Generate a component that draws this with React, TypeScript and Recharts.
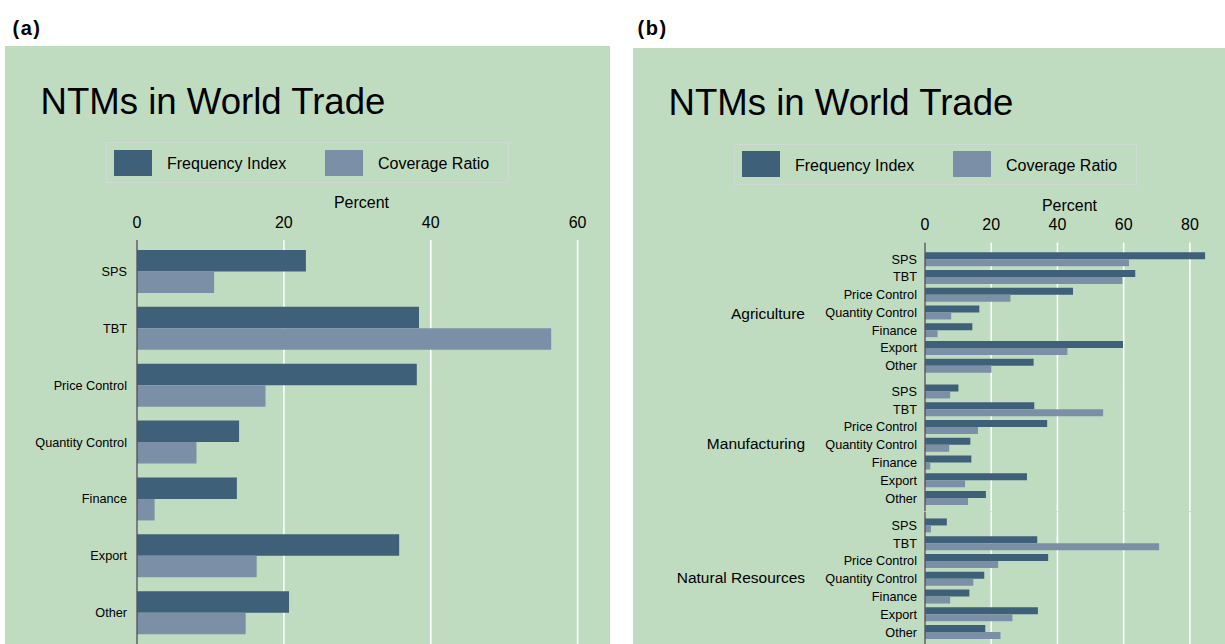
import React from 'react';
import { BarChart, Bar, XAxis, YAxis, CartesianGrid } from 'recharts';

// NTM types, same order in both panels
const measures = ['SPS', 'TBT', 'Price Control', 'Quantity Control', 'Finance', 'Export', 'Other'];

// (a) all products, percent
const worldFrequency = [23.0, 38.4, 38.1, 13.9, 13.6, 35.7, 20.7];
const worldCoverage = [10.5, 56.4, 17.5, 8.1, 2.4, 16.3, 14.8];

// (b) by sector, percent
const sectors = ['Agriculture', 'Manufacturing', 'Natural Resources'];
const agriFrequency = [84.6, 63.5, 44.7, 16.4, 14.3, 59.8, 32.8];
const agriCoverage = [61.6, 59.6, 25.8, 7.9, 3.8, 43.0, 20.1];
const manuFrequency = [10.1, 33.0, 36.9, 13.7, 14.0, 30.8, 18.4];
const manuCoverage = [7.6, 53.8, 16.0, 7.3, 1.6, 12.1, 13.0];
const natFrequency = [6.6, 33.9, 37.2, 17.9, 13.4, 34.1, 18.2];
const natCoverage = [1.8, 70.7, 22.1, 14.6, 7.6, 26.4, 22.8];

const ticksA = [0, 20, 40, 60];
const ticksB = [0, 20, 40, 60, 80];

const DARK = '#3e6179';
const LIGHT = '#7b90a7';
const BG = '#bfdcc0';
const FONT = '"Liberation Sans", Arial, Helvetica, sans-serif';

const toRows = (freq: number[], cov: number[]) =>
  measures.map((m, i) => ({ measure: m, frequency: freq[i], coverage: cov[i] }));

const worldRows = toRows(worldFrequency, worldCoverage);
const sectorRows = [
  toRows(agriFrequency, agriCoverage),
  toRows(manuFrequency, manuCoverage),
  toRows(natFrequency, natCoverage),
];

function PanelHeader() {
  const swatch = (left: number, color: string) => (
    <div style={{ position: 'absolute', left, top: 103.5, width: 38, height: 26, background: color }} />
  );
  const text = (left: number, value: string) => (
    <div style={{ position: 'absolute', left, top: 110, fontSize: 16, lineHeight: '16px', whiteSpace: 'nowrap' }}>
      {value}
    </div>
  );
  return (
    <>
      <div style={{ position: 'absolute', left: 35.5, top: 37.5, fontSize: 36.6, lineHeight: '36.6px', whiteSpace: 'nowrap' }}>
        NTMs in World Trade
      </div>
      <div
        style={{
          position: 'absolute', left: 100.5, top: 96, width: 403, height: 41,
          border: '1px solid #cddbd4', boxSizing: 'border-box',
        }}
      />
      {swatch(109, DARK)}
      {text(162, 'Frequency Index')}
      {swatch(319.5, LIGHT)}
      {text(373, 'Coverage Ratio')}
    </>
  );
}

const tickStyle = { fontSize: 16, fill: '#000' };
const catStyle = { fontSize: 12.7, fill: '#000' };

function SectorChart({ idx, top, height, showAxis, padTop, padBottom, labelDy }: any) {
  return (
    <div style={{ position: 'absolute', left: 0, top }}>
      <BarChart
        width={592}
        height={height}
        data={sectorRows[idx]}
        layout="vertical"
        barGap={0}
        margin={{ top: showAxis ? 150.5 : 0, right: 2, bottom: 0, left: 0 }}
      >
        <CartesianGrid horizontal={false} syncWithTicks stroke="#ffffff" strokeWidth={1.6} />
        <XAxis
          type="number"
          orientation="top"
          domain={[0, 90]}
          ticks={ticksB}
          hide={!showAxis}
          height={44}
          axisLine={false}
          tickLine={false}
          tickSize={6}
          tickMargin={6}
          tick={tickStyle}
          label={{ value: 'Percent', position: 'insideTop', offset: 1, dx: -4.5, fontSize: 16, fill: '#000' }}
        />
        <YAxis
          type="category"
          dataKey="measure"
          width={292}
          interval={0}
          tickLine={false}
          tickSize={6}
          tickMargin={2}
          tick={catStyle}
          axisLine={{ stroke: '#555555', strokeWidth: 1.5 }}
          padding={{ top: padTop, bottom: padBottom }}
          label={{ value: sectors[idx], position: 'insideRight', offset: 120, dy: labelDy, fontSize: 15.5, fill: '#000' }}
        />
        <Bar dataKey="frequency" name="Frequency Index" fill={DARK} barSize={7} isAnimationActive={false} />
        <Bar dataKey="coverage" name="Coverage Ratio" fill={LIGHT} barSize={7} isAnimationActive={false} />
      </BarChart>
    </div>
  );
}

const panelTag = { position: 'absolute' as const, top: 17.7, fontSize: 20, lineHeight: '20px', fontWeight: 'bold' as const, letterSpacing: 1.5 };

export default function App() {
  return (
    <div
      style={{
        position: 'fixed', left: 0, top: 0, width: 1225, height: 644, overflow: 'hidden',
        background: '#ffffff', fontFamily: FONT, color: '#000',
      }}
    >
      <div style={{ ...panelTag, left: 12.5 }}>(a)</div>
      <div style={{ ...panelTag, left: 637.5 }}>(b)</div>

      {/* panel (a) */}
      <div style={{ position: 'absolute', left: 5, top: 46, width: 605, height: 598, background: BG }}>
        <PanelHeader />
        <div style={{ position: 'absolute', left: 0, top: 0 }}>
          <BarChart
            width={605}
            height={598}
            data={worldRows}
            layout="vertical"
            barGap={0}
            margin={{ top: 150, right: 3, bottom: 0, left: 0 }}
          >
            <CartesianGrid horizontal={false} syncWithTicks stroke="#ffffff" strokeWidth={1.6} />
            <XAxis
              type="number"
              orientation="top"
              domain={[0, 64]}
              ticks={ticksA}
              height={44}
              axisLine={false}
              tickLine={false}
              tickSize={6}
              tickMargin={6}
              tick={tickStyle}
              label={{ value: 'Percent', position: 'insideTop', offset: 1, dx: -10.5, fontSize: 16, fill: '#000' }}
            />
            <YAxis
              type="category"
              dataKey="measure"
              width={132}
              interval={0}
              tickLine={false}
              tickSize={6}
              tickMargin={4}
              tick={catStyle}
              axisLine={{ stroke: '#555555', strokeWidth: 1.5 }}
              padding={{ top: 3, bottom: 3 }}
            />
            <Bar dataKey="frequency" name="Frequency Index" fill={DARK} barSize={21.5} isAnimationActive={false} />
            <Bar dataKey="coverage" name="Coverage Ratio" fill={LIGHT} barSize={21.5} isAnimationActive={false} />
          </BarChart>
        </div>
      </div>

      {/* panel (b) */}
      <div style={{ position: 'absolute', left: 633, top: 47.5, width: 592, height: 596.5, background: BG, overflow: 'hidden' }}>
        <PanelHeader />
        <SectorChart idx={0} top={0} height={330.8} showAxis padTop={7.8} padBottom={4.45} labelDy={2.5} />
        <SectorChart idx={1} top={330.8} height={133.35} showAxis={false} padTop={4.45} padBottom={4.45} labelDy={-1} />
        <SectorChart idx={2} top={464.15} height={133.35} showAxis={false} padTop={4.45} padBottom={4.45} labelDy={-1} />
      </div>
    </div>
  );
}
